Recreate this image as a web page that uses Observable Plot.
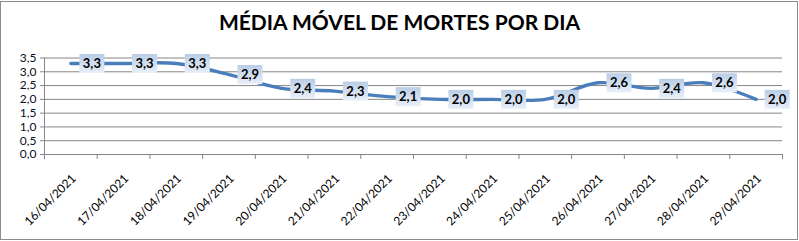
<!DOCTYPE html>
<html><head><meta charset="utf-8">
<script src="https://cdn.jsdelivr.net/npm/d3@7"></script>
<script src="https://cdn.jsdelivr.net/npm/@observablehq/plot@0.6"></script>
<style>
body{margin:0;background:#fff;}
#wrap{position:relative;width:799px;height:241px;overflow:hidden;font-family:Lato,"Open Sans",sans-serif;}
#frame{position:absolute;left:0;top:1px;width:798px;height:239px;border:1px solid #8c8c8c;box-sizing:border-box;pointer-events:none;}
#title{position:absolute;left:0;top:8px;width:799px;text-align:center;font:bold 21px Lato,sans-serif;color:#000;line-height:28px;}
#chart{position:absolute;left:0;top:40px;}
</style></head>
<body>
<div id="wrap">
<div id="frame"></div>
<div id="title">MÉDIA MÓVEL DE MORTES POR DIA</div>
<div id="chart"></div>
</div>
<script>
const dates = ["16/04/2021","17/04/2021","18/04/2021","19/04/2021","20/04/2021","21/04/2021","22/04/2021","23/04/2021","24/04/2021","25/04/2021","26/04/2021","27/04/2021","28/04/2021","29/04/2021"];
const values = [3.3,3.3,3.3,2.9,2.4,2.3,2.1,2.0,2.0,2.0,2.6,2.4,2.6,2.0];
const yTicks = [0,0.5,1,1.5,2,2.5,3,3.5];

const data = dates.map((d,i)=>({i, date:d, v:values[i]}));
const idx = dates.map((d,i)=>i);
const bounds = d3.range(dates.length+1).map(k=>k-0.5);
const fmt = v => v.toFixed(1).replace(".", ",");
const boxSymbol = {draw(ctx){ ctx.rect(-12.5,-9.5,25,19); }};
const grid = "#868686";

const svg = Plot.plot({
  width: 799, height: 201,
  marginLeft: 44, marginRight: 17, marginTop: 17.5, marginBottom: 87,
  style: {fontFamily: "Lato, sans-serif", fontSize: "12px", color: "#000", background: "transparent"},
  x: {type: "linear", domain: [-0.5, dates.length-0.5], axis: null},
  y: {domain: [0, 3.5], axis: null},
  marks: [
    Plot.ruleY(yTicks, {stroke: grid, strokeWidth: 1}),
    Plot.ruleX([-0.5], {stroke: grid, strokeWidth: 1}),
    Plot.axisY(yTicks, {label: null, tickSize: 4, tickPadding: 4, tickFormat: fmt, stroke: grid, fill: "#0d0d26", fontSize: 12}),
    Plot.axisX(bounds, {label: null, tickSize: 5, tickFormat: () => "", stroke: grid}),
    Plot.axisX(idx, {label: null, tickSize: 0, tickPadding: 0, tickRotate: -45, dx: 3, dy: 22, tickFormat: i => dates[i], fill: "#000", fontSize: 12}),
    Plot.line(data, {x: "i", y: "v", curve: "catmull-rom", stroke: "#4a7ebb", strokeWidth: 3.4}),
    Plot.dot(data, {x: "i", y: "v", symbol: boxSymbol, r: 5, dx: 21, fill: "url(#lblgrad)", stroke: "none"}),
    Plot.text(data, {x: "i", y: "v", text: d => fmt(d.v), dx: 21, dy: 0.5, fontWeight: "bold", fontSize: 13, fill: "#000"})
  ]
});
const defs = d3.select(svg).insert("defs", ":first-child");
const g = defs.append("linearGradient").attr("id","lblgrad").attr("x1",0).attr("y1",0).attr("x2",0).attr("y2",1);
g.append("stop").attr("offset","0%").attr("stop-color","#b9cde6");
g.append("stop").attr("offset","100%").attr("stop-color","#e8eff9");
document.getElementById("chart").appendChild(svg);
</script>
</body></html>
